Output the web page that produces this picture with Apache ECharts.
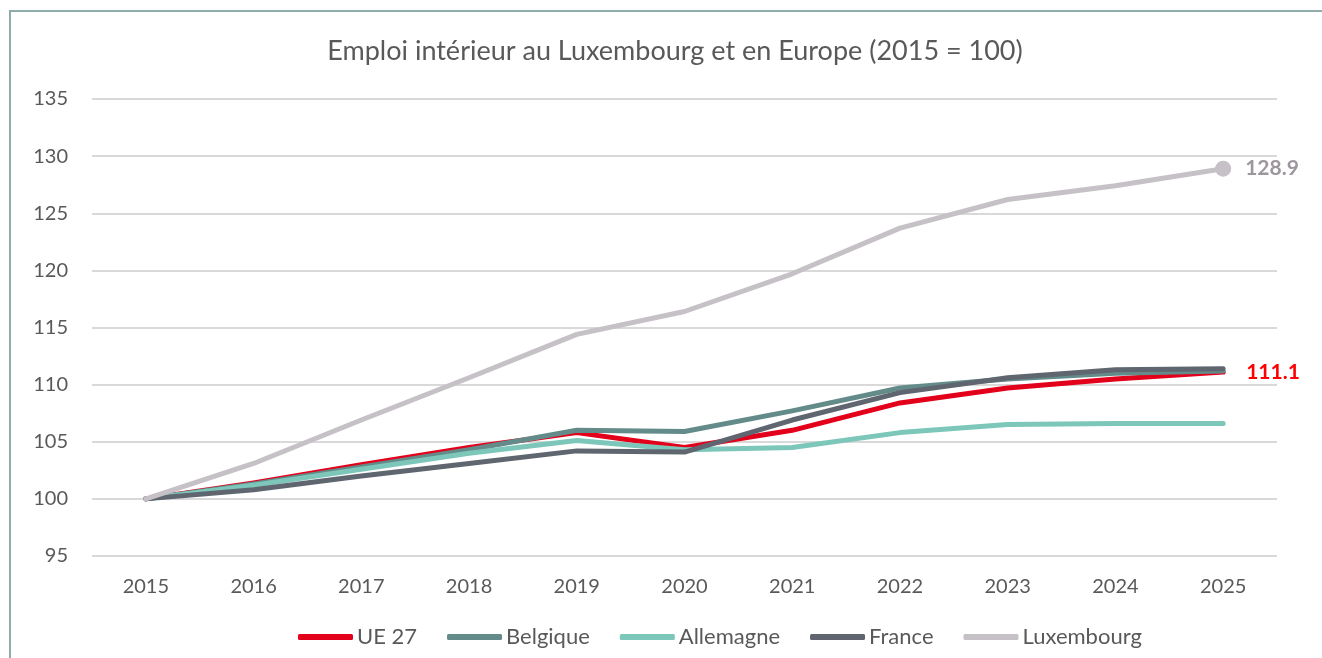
<!DOCTYPE html>
<html>
<head>
<meta charset="utf-8">
<script src="https://cdn.jsdelivr.net/npm/echarts@6/dist/echarts.min.js"></script>
<style>
  html, body { margin: 0; padding: 0; background: #fff; }
  #frame {
    position: absolute; left: 9px; top: 10px; width: 1330px; height: 660px;
    border-left: 2px solid #8fabaa; border-top: 2px solid #8fabaa;
  }
  #chart { position: absolute; left: 0; top: 0; width: 1322px; height: 658px; }
</style>
</head>
<body>
<div id="frame"></div>
<div id="chart"></div>
<script>
const years = ['2015', '2016', '2017', '2018', '2019', '2020', '2021', '2022', '2023', '2024', '2025'];
const ue27 = [100, 101.4, 103.0, 104.5, 105.8, 104.5, 106.0, 108.4, 109.7, 110.5, 111.1];
const belgique = [100, 101.3, 102.8, 104.3, 106.0, 105.9, 107.7, 109.7, 110.5, 111.0, 111.2];
const allemagne = [100, 101.2, 102.6, 104.0, 105.1, 104.3, 104.5, 105.8, 106.5, 106.6, 106.6];
const france = [100, 100.8, 102.0, 103.1, 104.2, 104.1, 106.9, 109.3, 110.6, 111.3, 111.4];
const luxembourg = [100, 103.1, 106.9, 110.6, 114.4, 116.4, 119.7, 123.7, 126.2, 127.4, 128.9];

const font = 'Lato';
const textColor = '#595959';

const colors = {
  ue27: '#e3001b',
  belgique: '#638b89',
  allemagne: '#7cc7b9',
  france: '#5f666f',
  luxembourg: '#c6c1c6'
};

function lineSeries(name, data, color, extra) {
  return Object.assign({
    name,
    type: 'line',
    data,
    symbol: 'none',
    smooth: false,
    lineStyle: { width: 5, color, cap: 'round', join: 'round' },
    itemStyle: { color },
    emphasis: { disabled: true }
  }, extra || {});
}

const chart = echarts.init(document.getElementById('chart'));
chart.setOption({
  animation: false,
  title: {
    text: 'Emploi intérieur au Luxembourg et en Europe (2015 = 100)',
    left: 670, top: 33, textAlign: 'center',
    textStyle: { color: textColor, fontFamily: font, fontWeight: 'normal', fontSize: 27 }
  },
  legend: {
    top: 621, left: 293,
    itemWidth: 55, itemHeight: 6, itemGap: 30,
    icon: 'roundRect',
    textStyle: { color: textColor, fontFamily: font, fontSize: 22, padding: [0, 0, 0, -1] },
    data: ['UE 27', 'Belgique', 'Allemagne', 'France', 'Luxembourg']
  },
  grid: { left: 92, right: 45, top: 99, bottom: 102 },
  xAxis: {
    type: 'category',
    data: years,
    boundaryGap: true,
    axisLine: { show: false },
    axisTick: { show: false },
    axisLabel: { color: textColor, fontFamily: font, fontSize: 20, margin: 21 }
  },
  yAxis: {
    type: 'value',
    min: 95, max: 135, interval: 5,
    axisLine: { show: false },
    axisTick: { show: false },
    axisLabel: { color: textColor, fontFamily: font, fontSize: 20, margin: 24 },
    splitLine: { lineStyle: { color: '#d9d9d9', width: 2 } }
  },
  series: [
    lineSeries('UE 27', ue27, colors.ue27, {
      endLabel: {
        show: true, distance: 23,
        formatter: '{c}', color: '#ff0000', fontFamily: font, fontWeight: 'bold', fontSize: 21
      }
    }),
    lineSeries('Belgique', belgique, colors.belgique),
    lineSeries('Allemagne', allemagne, colors.allemagne),
    lineSeries('France', france, colors.france),
    lineSeries('Luxembourg', luxembourg.map((v, i) => i === luxembourg.length - 1 ? {
      value: v,
      symbol: 'circle', symbolSize: 16,
      label: {
        show: true, position: 'right', distance: 14,
        formatter: '{c}', color: '#9d979d', fontFamily: font, fontWeight: 'bold', fontSize: 21
      }
    } : v), colors.luxembourg, { showSymbol: true })
  ]
});
</script>
</body>
</html>
